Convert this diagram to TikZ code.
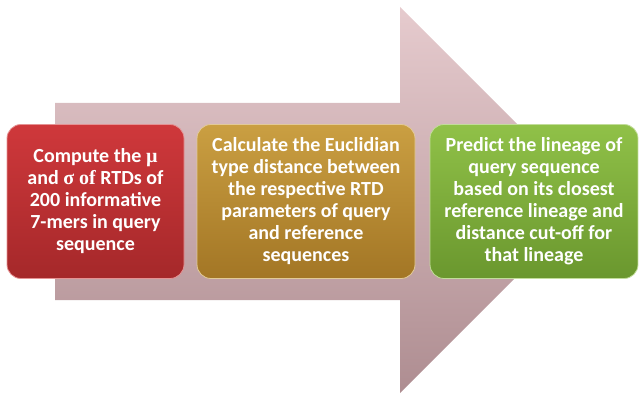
\documentclass[tikz,border=0pt]{standalone}
\usepackage{fontspec}
\setmainfont{Carlito}
\newfontfamily\symfont{Liberation Serif}
\usetikzlibrary{positioning}

\definecolor{shafttop}{HTML}{E6CBCE}
\definecolor{shaftbot}{HTML}{AE8D91}
\definecolor{redtop}{HTML}{CF383B}
\definecolor{redbot}{HTML}{A5282A}
\definecolor{goldtop}{HTML}{CA9F42}
\definecolor{goldbot}{HTML}{A37625}
\definecolor{greentop}{HTML}{90C148}
\definecolor{greenbot}{HTML}{6A972E}

\tikzstyle{stepbox} = [rounded corners=14pt, align=center, text=white,
  font=\fontsize{20}{22}\selectfont\bfseries, minimum height=154pt, inner sep=0pt]

\begin{document}
\begin{tikzpicture}[x=1pt, y=-1pt]
\useasboundingbox (0,0) rectangle (639,395);
	% the big arrow behind the steps
	\path[top color=shafttop, bottom color=shaftbot]
		(55,103) -- (400,103) -- (400,7) -- (593,200) -- (400,393) -- (400,300) -- (55,300) -- cycle;

	\node[stepbox, minimum width=177pt, top color=redtop, bottom color=redbot, draw=redtop!55!white, line width=0.8pt] (compute) at (95.5,201.5)
		{Compute the {\symfont\textmu} \\ and {\symfont σ of} RTDs of \\ 200 informative \\ 7-mers in query \\ sequence};
	\node[stepbox, minimum width=218pt, top color=goldtop, bottom color=goldbot, draw=goldtop!55!white, line width=0.8pt] (calc) at (306,201.5)
		{Calculate the Euclidian \\ type distance between \\ the respective RTD \\ parameters of query \\ and reference \\ sequences};
	\node[stepbox, minimum width=208pt, top color=greentop, bottom color=greenbot, draw=greentop!55!white, line width=0.8pt] (predict) at (534,201.5)
		{Predict the lineage of \\ query sequence \\ based on its closest \\ reference lineage and \\ distance cut-off for \\ that lineage};
\end{tikzpicture}
\end{document}
